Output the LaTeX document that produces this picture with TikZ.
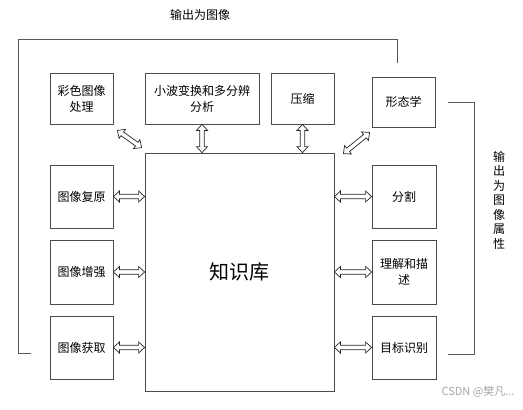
\documentclass[tikz,border=0pt]{standalone}
\usepackage{fontspec}
\usepackage{tikz}
\usetikzlibrary{calc}
\setmainfont{Noto Sans CJK SC}
\newfontfamily\wmfont{Noto Sans CJK SC}

\begin{document}
\begin{tikzpicture}[x=1pt,y=-1pt,
  box/.style={draw=black!70,line width=0.8pt,align=center,inner sep=1pt,
    font=\fontsize{12}{16}\selectfont},
  link/.style={draw=black!85,fill=white,line width=0.7pt,line join=miter,
    to path={let \p1=(\tikztostart), \p2=(\tikztotarget) in
      (\p1)
      -- ($(\p1)!6pt!(\p2)!5.5pt!90:(\p2)$)
      -- ($(\p1)!6pt!(\p2)!2.2pt!90:(\p2)$)
      -- ($(\p2)!6pt!(\p1)!2.2pt!-90:(\p1)$)
      -- ($(\p2)!6pt!(\p1)!5.5pt!-90:(\p1)$)
      -- (\p2)
      -- ($(\p2)!6pt!(\p1)!5.5pt!90:(\p1)$)
      -- ($(\p2)!6pt!(\p1)!2.2pt!90:(\p1)$)
      -- ($(\p1)!6pt!(\p2)!2.2pt!-90:(\p2)$)
      -- ($(\p1)!6pt!(\p2)!5.5pt!-90:(\p2)$)
      -- cycle}},
  frame/.style={draw=black!65,line width=0.8pt}]

\useasboundingbox (0,0) rectangle (523,410);

% definitions
\node[box,minimum width=63pt,minimum height=51pt] (color) at (81.5,98.5) {彩色图像\\处理};
\node[box,minimum width=114pt,minimum height=51pt] (wavelet) at (202,98.5) {小波变换和多分辨\\分析};
\node[box,minimum width=63pt,minimum height=51pt] (compress) at (302.5,98.5) {压缩};
\node[box,minimum width=63pt,minimum height=50pt] (morph) at (403.5,102) {形态学};

\node[box,minimum width=63pt,minimum height=63pt] (restore) at (81.5,196.5) {图像复原};
\node[box,minimum width=63pt,minimum height=64pt] (enhance) at (81.5,272) {图像增强};
\node[box,minimum width=63pt,minimum height=63pt] (acquire) at (81.5,347.5) {图像获取};

\node[box,minimum width=64pt,minimum height=63pt] (segment) at (404,196.5) {分割};
\node[box,minimum width=64pt,minimum height=64pt] (describe) at (404,272) {理解和描\\述};
\node[box,minimum width=64pt,minimum height=63pt] (recog) at (404,347.5) {目标识别};

\node[box,minimum width=189pt,minimum height=238pt,font=\fontsize{20}{24}\selectfont] (kb) at (239.5,272) {知识库};

\coordinate (colorEnd) at ([shift={(4,6)}]color.south east);
\coordinate (kbNW) at ([shift={(-3,-5)}]kb.north west);
\coordinate (kbNE) at ([shift={(9,1)}]kb.north east);
\coordinate (morphEnd) at ([shift={(-2,5)}]morph.south west);

% drawing
\draw[link] (restore.east) to (restore.east -| kb.west);
\draw[link] (enhance.east) to (enhance.east -| kb.west);
\draw[link] (acquire.east) to (acquire.east -| kb.west);
\draw[link] (segment.west -| kb.east) to (segment.west);
\draw[link] (describe.west -| kb.east) to (describe.west);
\draw[link] (recog.west -| kb.east) to (recog.west);
\draw[link] (wavelet.south) to (wavelet.south |- kb.north);
\draw[link] (compress.south) to (compress.south |- kb.north);
\draw[link] (colorEnd) to (kbNW);
\draw[link] (kbNE) to (morphEnd);

\coordinate (imgA) at (31,353);
\coordinate (imgB) at (18,39);
\coordinate (imgC) at (397,63);
\draw[frame] (imgA) -- (imgA -| imgB) -- (imgB) -- (imgB -| imgC) -- (imgC);

\coordinate (attA) at (448,102);
\coordinate (attB) at (474,354);
\draw[frame] (attA) -- (attA -| attB) -- (attB) -- (attB -| attA);

% labels
\node[font=\fontsize{12}{16}\selectfont] (outimg) at (200,15) {输出为图像};
\node[align=center,font=\fontsize{12}{14.5}\selectfont] (outattr) at (499,200)
  {输\\出\\为\\图\\像\\属\\性};
\node[text=black!35,font=\wmfont\fontsize{11}{13}\selectfont,anchor=east] (mark) at (518,392) {CSDN @樊凡...};

\end{tikzpicture}
\end{document}
